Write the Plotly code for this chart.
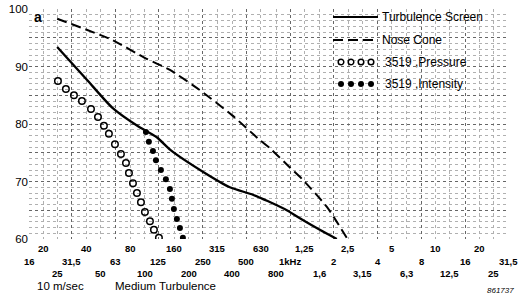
import math
import plotly.graph_objects as go

# ---------------- data ----------------
screen_f = [25, 40, 60, 90, 121, 150, 251, 385, 554, 700, 949, 1222, 1600, 2094]
screen_db = [93.4, 87.7, 82.8, 79.6, 77.7, 75.5, 71.7, 69.0, 67.7, 66.6, 65.0, 63.3, 61.6, 60.0]

cone_f = [25, 60, 100, 149, 239, 400, 619, 725, 1000, 1222, 1800, 2450]
cone_db = [98.3, 94.6, 91.5, 89.4, 85.9, 81.5, 77.2, 75.8, 72.4, 70.3, 65.5, 60.2]

pres_f = [25.3, 28.7, 32.6, 37.0, 42.7, 47.7, 52.4, 56.7, 62.4, 68.6, 74.3, 77.9,
          83.0, 88.4, 94.2, 100.3, 108.6, 115.7, 125.2]
pres_db = [87.5, 86.1, 85.0, 84.0, 82.6, 81.2, 79.7, 78.3, 76.5, 74.8, 73.2, 71.5,
           69.7, 68.0, 66.4, 64.7, 63.1, 61.6, 60.2]

inten_f = [101.9, 106.8, 113.9, 119.4, 129.2, 139.8, 149.0, 153.8, 158.7, 166.4, 174.6, 183.0]
inten_db = [78.6, 76.9, 75.3, 73.7, 72.0, 70.4, 68.7, 67.0, 65.2, 63.5, 61.9, 60.2]

third_oct = [16, 20, 25, 31.5, 40, 50, 63, 80, 100, 125, 160, 200, 250, 315, 400, 500,
             630, 800, 1000, 1250, 1600, 2000, 2500, 3150, 4000, 5000, 6300, 8000,
             10000, 12500, 16000, 20000, 25000, 31500]
octaves = [16, 31.5, 63, 125, 250, 500, 1000, 2000, 4000, 8000, 16000, 31500]

row1_f = [20, 40, 80, 160, 315, 630, 1250, 2500, 5000, 10000, 20000]
row1_t = ["20", "40", "80", "160", "315", "630", "1,25", "2,5", "5", "10", "20"]
row2_f = [16, 31.5, 63, 125, 250, 500, 1000, 2000, 4000, 8000, 16000, 31500]
row2_t = ["16", "31,5", "63", "125", "250", "500", "1kHz", "2", "4", "8", "16", "31,5"]
row3_f = [25, 50, 100, 200, 400, 800, 1600, 3150, 6300, 12500, 25000]
row3_t = ["25", "50", "100", "200", "400", "800", "1,6", "3,15", "6,3", "12,5", "25"]

y_ticks = [60, 65, 70, 75, 80, 85, 90, 95, 100]
y_text = ["60", "", "70", "", "80", "", "90", "", "100"]
y_minor = list(range(60, 101))

FONT = "Liberation Sans, Arial, sans-serif"

fig = go.Figure()
fig.add_trace(go.Scatter(x=screen_f, y=screen_db, mode="lines",
                         line=dict(color="black", width=2.3, shape="spline", smoothing=0.6)))
fig.add_trace(go.Scatter(x=cone_f, y=cone_db, mode="lines",
                         line=dict(color="black", width=2, dash="10px,5px", shape="spline", smoothing=0.6)))
fig.add_trace(go.Scatter(x=pres_f, y=pres_db, mode="markers",
                         marker=dict(symbol="circle-open", size=6.5, color="black", line=dict(width=1.5))))
fig.add_trace(go.Scatter(x=inten_f, y=inten_db, mode="markers",
                         marker=dict(symbol="circle", size=6, color="black")))

fig.update_layout(
    width=521, height=297,
    margin=dict(l=29, r=13, t=9, b=58, autoexpand=False),
    paper_bgcolor="white", plot_bgcolor="white",
    showlegend=False,
    font=dict(family=FONT, color="black"),
    xaxis=dict(type="log", range=[math.log10(16), math.log10(31500)],
               tickmode="array", tickvals=octaves, showticklabels=False, ticks="",
               showgrid=True, gridcolor="#666", griddash="dot", gridwidth=1,
               zeroline=False, showline=False, automargin=False,
               minor=dict(tickmode="array", tickvals=third_oct, showgrid=True,
                          gridcolor="#b0b0b0", griddash="dot", gridwidth=1, ticks="")),
    yaxis=dict(range=[60, 100], tickmode="array", tickvals=y_ticks, ticktext=y_text,
               tickfont=dict(size=11.5, family=FONT, color="black"), ticks="",
               showgrid=True, gridcolor="#666", griddash="dot", gridwidth=1,
               zeroline=False, showline=False, automargin=False,
               minor=dict(tickmode="array", tickvals=y_minor, showgrid=True,
                          gridcolor="#b0b0b0", griddash="dot", gridwidth=1, ticks="")),
)

ann = []
for fl, tl, shift in [(row1_f, row1_t, -9), (row2_f, row2_t, -22), (row3_f, row3_t, -34)]:
    for f, t in zip(fl, tl):
        ann.append(dict(x=math.log10(f), y=0, xref="x", yref="paper", text=t, showarrow=False,
                        xanchor="center", yanchor="middle", yshift=shift,
                        font=dict(size=9.5, family=FONT, color="black", weight="bold")))

ann.append(dict(x=(60 - 29) / 479, y=0, xref="paper", yref="paper", text="10 m/sec", showarrow=False,
                xanchor="center", yanchor="middle", yshift=-47, font=dict(size=11.5)))
ann.append(dict(x=(165 - 29) / 479, y=0, xref="paper", yref="paper", text="Medium Turbulence",
                showarrow=False, xanchor="center", yanchor="middle", yshift=-47, font=dict(size=11.5)))
ann.append(dict(x=(516 - 29) / 479, y=0, xref="paper", yref="paper", text="<i>861737</i>",
                showarrow=False, xanchor="right", yanchor="middle", yshift=-51, font=dict(size=8)))
ann.append(dict(x=(32 - 29) / 479, y=1, xref="paper", yref="paper", text="<b>a</b>",
                showarrow=False, xanchor="left", yanchor="middle", yshift=-8, font=dict(size=14)))

# legend (drawn in paper coordinates)
def px(x):
    return (x - 29) / 479

def py(y):
    return (239 - y) / 230

legend_names = ["Turbulence Screen", "Nose Cone", "3519 ,Pressure", "3519 ,Intensity"]
legend_y = [17, 40, 62, 84]
for name, yy, xx in zip(legend_names, legend_y, [380, 380, 383, 383]):
    ann.append(dict(x=px(xx), y=py(yy), xref="paper", yref="paper", text=name, showarrow=False,
                    xanchor="left", yanchor="middle", font=dict(size=12)))

shapes = [
    dict(type="line", xref="paper", yref="paper", x0=px(333), x1=px(378), y0=py(17), y1=py(17),
         line=dict(color="black", width=2.2)),
    dict(type="line", xref="paper", yref="paper", x0=px(333), x1=px(378), y0=py(40), y1=py(40),
         line=dict(color="black", width=2, dash="10px,5px")),
]
for cx in [341, 351, 361, 371]:
    shapes.append(dict(type="circle", xref="paper", yref="paper", xsizemode="pixel", ysizemode="pixel",
                       xanchor=px(cx), yanchor=py(62), x0=-2.8, x1=2.8, y0=-2.8, y1=2.8,
                       line=dict(color="black", width=1.5), fillcolor="white"))
    shapes.append(dict(type="circle", xref="paper", yref="paper", xsizemode="pixel", ysizemode="pixel",
                       xanchor=px(cx), yanchor=py(84), x0=-3, x1=3, y0=-3, y1=3,
                       line=dict(color="black", width=0), fillcolor="black"))

fig.update_layout(annotations=ann, shapes=shapes)
fig.write_html("out.html",
               config={"displayModeBar": False, "staticPlot": True},
               post_script="document.body.style.margin='0';document.body.style.padding='0';"
                           "document.body.style.overflow='hidden';")
